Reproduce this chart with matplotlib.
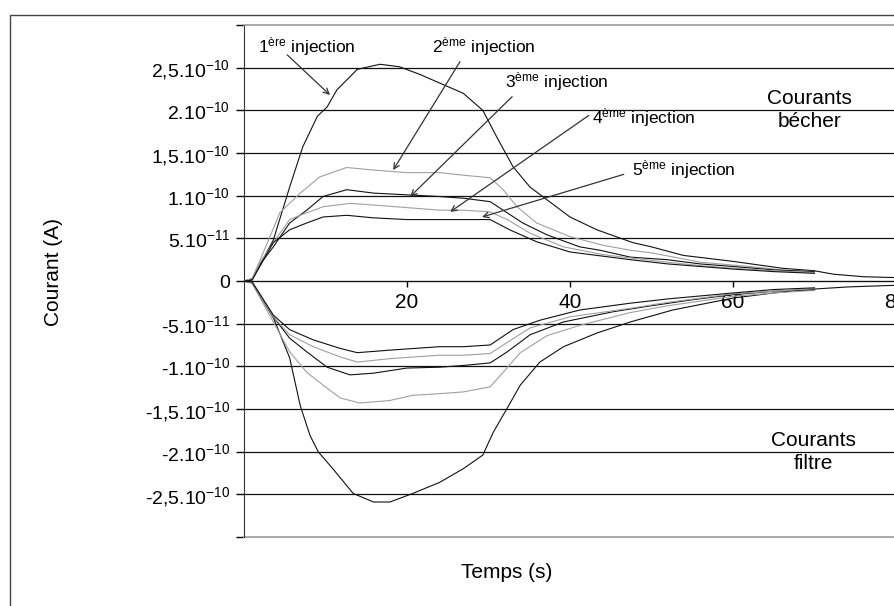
import numpy as np
import matplotlib
matplotlib.use("Agg")
import matplotlib.pyplot as plt
from matplotlib.patches import Rectangle

plt.rcParams['font.family'] = ['Liberation Sans', 'DejaVu Sans']
plt.rcParams['mathtext.fontset'] = 'custom'
plt.rcParams['mathtext.rm'] = 'Liberation Sans'
plt.rcParams['mathtext.default'] = 'regular'

# courants en unites de 1e-10 A, temps en s
# courants becher (positifs)
tb1 = [0, 1, 2, 3.6, 5.6, 7.2, 9.0, 10.2, 11.4, 13.9, 16.7, 19.1, 21.6, 24, 26.9, 29.3, 31, 33, 35.1, 37.2, 40, 43.3, 47.7, 50, 53.9, 60, 66, 70, 72.3, 76, 80]
ib1 = [0, 0.02, 0.2, 0.48, 1.1, 1.57, 1.93, 2.04, 2.24, 2.48, 2.54, 2.51, 2.42, 2.32, 2.2, 2.0, 1.69, 1.34, 1.1, 0.95, 0.75, 0.6, 0.45, 0.4, 0.3, 0.23, 0.15, 0.12, 0.08, 0.05, 0.04]
tb2 = [0, 1, 2, 4.4, 6.9, 9.3, 12.6, 15.9, 20, 24, 26.9, 30.2, 31.8, 33.5, 35.9, 40, 44, 47.4, 50, 56, 62, 66, 70]
ib2 = [0, 0.03, 0.25, 0.8, 1.03, 1.22, 1.33, 1.3, 1.27, 1.27, 1.24, 1.21, 1.07, 0.87, 0.68, 0.52, 0.42, 0.36, 0.33, 0.22, 0.17, 0.13, 0.11]
tb3 = [0, 1, 2, 3.6, 5.6, 7.7, 9.7, 12.6, 15.9, 20, 24, 26.9, 30.2, 31.8, 34.2, 37.2, 41.2, 43.7, 47.4, 51.9, 56, 60, 65, 70]
ib3 = [0, 0.02, 0.2, 0.4, 0.68, 0.83, 0.99, 1.07, 1.03, 1.01, 0.99, 0.97, 0.93, 0.83, 0.68, 0.54, 0.4, 0.36, 0.28, 0.25, 0.2, 0.17, 0.13, 0.11]
tb4 = [0, 1, 2, 3.6, 5.6, 7.7, 9.7, 13, 15.9, 20, 24, 26.9, 30.2, 32.3, 35.1, 39.2, 44, 47.4, 52, 56, 60, 65, 70]
ib4 = [0, 0.03, 0.22, 0.45, 0.72, 0.8, 0.87, 0.91, 0.89, 0.86, 0.83, 0.83, 0.81, 0.72, 0.56, 0.4, 0.31, 0.27, 0.22, 0.18, 0.15, 0.12, 0.1]
tb5 = [0, 1, 2, 3.6, 5.6, 7.7, 9.7, 12.6, 15.9, 20, 24, 26.9, 30.2, 32.6, 35.9, 40, 47.4, 52, 56, 60, 65, 70]
ib5 = [0, 0.01, 0.18, 0.45, 0.6, 0.68, 0.75, 0.77, 0.74, 0.72, 0.72, 0.72, 0.72, 0.6, 0.46, 0.34, 0.25, 0.2, 0.17, 0.14, 0.11, 0.09]

# courants filtre (negatifs)
tf1 = [0, 1, 3.6, 5.6, 6.9, 8.1, 9.1, 10.9, 13.4, 15.9, 17.9, 20.7, 24, 26.9, 29.3, 30.6, 32.3, 33.9, 36.3, 39.2, 43.3, 47.4, 52.6, 60, 65, 69, 74, 80]
if1 = [0, -0.02, -0.43, -0.9, -1.46, -1.81, -2.0, -2.2, -2.49, -2.59, -2.59, -2.49, -2.36, -2.2, -2.04, -1.77, -1.49, -1.22, -0.95, -0.77, -0.61, -0.48, -0.34, -0.2, -0.14, -0.1, -0.07, -0.05]
tf2 = [0, 1, 3.6, 5.6, 7.7, 9.7, 11.8, 14.2, 17.9, 20.7, 24, 26.9, 30.2, 31.8, 33.9, 37.2, 41.2, 47.4, 52, 60, 65, 70]
if2 = [0, -0.03, -0.48, -0.83, -1.07, -1.22, -1.37, -1.43, -1.4, -1.34, -1.32, -1.3, -1.24, -1.07, -0.84, -0.64, -0.52, -0.37, -0.29, -0.18, -0.14, -0.11]
tf3 = [0, 1, 3.6, 5.6, 7.7, 10.2, 13, 15.9, 20, 24, 26.9, 30.2, 32.3, 35.1, 39.2, 45.3, 50, 55, 60, 65, 70]
if3 = [0, -0.02, -0.42, -0.67, -0.83, -1.01, -1.1, -1.08, -1.02, -1.01, -0.99, -0.96, -0.83, -0.63, -0.48, -0.36, -0.29, -0.22, -0.16, -0.12, -0.1]
tf4 = [0, 1, 3.6, 5.6, 8.5, 11.8, 13.9, 17.9, 24, 26.9, 30.2, 32.3, 35.1, 40, 47.4, 52, 60, 65, 70]
if4 = [0, -0.02, -0.42, -0.63, -0.77, -0.89, -0.95, -0.91, -0.87, -0.87, -0.85, -0.72, -0.55, -0.42, -0.32, -0.25, -0.15, -0.12, -0.09]
tf5 = [0, 1, 3.6, 5.6, 8.5, 11.8, 13.9, 17.9, 24, 26.9, 30.2, 33, 36.3, 41.2, 47.4, 52, 60, 65, 70]
if5 = [0, -0.01, -0.4, -0.57, -0.69, -0.79, -0.84, -0.81, -0.77, -0.77, -0.75, -0.57, -0.46, -0.34, -0.26, -0.21, -0.14, -0.1, -0.08]

series = [(tb1, ib1), (tb2, ib2), (tb3, ib3), (tb4, ib4), (tb5, ib5),
          (tf1, if1), (tf2, if2), (tf3, if3), (tf4, if4), (tf5, if5)]
colors = ['#111111', '#a0a0a0', '#111111', '#a0a0a0', '#111111'] * 2

yticks = [-3, -2.5, -2, -1.5, -1, -0.5, 0, 0.5, 1, 1.5, 2, 2.5, 3]
ylabels = ['', '-2,5.10$^{-10}$', '-2.10$^{-10}$', '-1,5.10$^{-10}$', '-1.10$^{-10}$', '-5.10$^{-11}$', '0',
           '5.10$^{-11}$', '1.10$^{-10}$', '1,5.10$^{-10}$', '2.10$^{-10}$', '2,5.10$^{-10}$', '']
xticks = [20, 40, 60, 80]

# annotations: texte (t, i), fleche depart (t, i), pointe (t, i)
labels = ['$1^{ère}$ injection', '$2^{ème}$ injection', '$3^{ème}$ injection', '$4^{ème}$ injection', '$5^{ème}$ injection']
label_pos = [(1.7, 2.68), (23.1, 2.68), (32.0, 2.27), (42.7, 1.85), (47.6, 1.24)]
arrow_from = [(5.3, 2.65), (26.5, 2.57), (32.9, 2.16), (42.3, 1.94), (46.6, 1.25)]
arrow_to = [(10.55, 2.18), (18.3, 1.30), (20.4, 0.99), (25.3, 0.81), (29.2, 0.75)]

fig = plt.figure(figsize=(8.95, 6.06), dpi=100)
fig.add_artist(Rectangle((10/895, -0.1), 1.0, 1.1 - 15/606, transform=fig.transFigure,
                         fill=False, edgecolor='#444444', linewidth=1.0))
ax = fig.add_axes([244/895, 69/606, 652/895, 512/606])

# axe des temps sur la ligne zero (avant les ticks, set_position les remet a zero)
ax.spines['right'].set_visible(False)
ax.spines['top'].set_color('#999999')
ax.spines['top'].set_linewidth(1.2)
ax.spines['left'].set_color('#333333')
ax.spines['bottom'].set_position(('data', 0))
ax.spines['bottom'].set_color('#111111')

for (t, i), c in zip(series, colors):
    ax.plot(t, np.array(i)*1e-10, color=c, linewidth=0.8)

ax.set_xlim(0, 80)
ax.set_ylim(-3e-10, 3e-10)
ax.set_yticks(np.array(yticks)*1e-10)
ax.set_yticklabels(ylabels, fontsize=14)
ax.set_xticks(xticks)
ax.set_xticklabels([str(x) for x in xticks], fontsize=15)
ax.tick_params(axis='y', direction='out', length=6, width=1, pad=4)
ax.tick_params(axis='x', direction='out', length=4, width=1, pad=5)

ax.yaxis.grid(True, color='#111111', linewidth=0.9)
gl = ax.get_ygridlines()
gl[0].set_visible(False)
gl[-1].set_visible(False)

ax.axhline(-3e-10, color='#aaaaaa', linewidth=1.5, clip_on=False)

ax.set_xlabel('Temps (s)', fontsize=15)
ax.xaxis.set_label_coords((507-244)/652, -26/512)
ax.set_ylabel('Courant (A)', fontsize=15)
ax.yaxis.set_label_coords((63-244)/652, (537-272)/512)

for lab, p, a, b in zip(labels, label_pos, arrow_from, arrow_to):
    ax.text(p[0], p[1]*1e-10, lab, fontsize=12.5, ha='left', va='baseline')
    ax.annotate('', xy=(b[0], b[1]*1e-10), xytext=(a[0], a[1]*1e-10),
                arrowprops=dict(arrowstyle='->', color='#333333', lw=0.9, shrinkA=0, shrinkB=0))

ax.text(69.4, 2.0e-10, 'Courants\nbécher', fontsize=15, ha='center', va='center', linespacing=1.25)
ax.text(69.9, -2.0e-10, 'Courants\nfiltre', fontsize=15, ha='center', va='center', linespacing=1.25)

fig.savefig('out.png', dpi=100)
